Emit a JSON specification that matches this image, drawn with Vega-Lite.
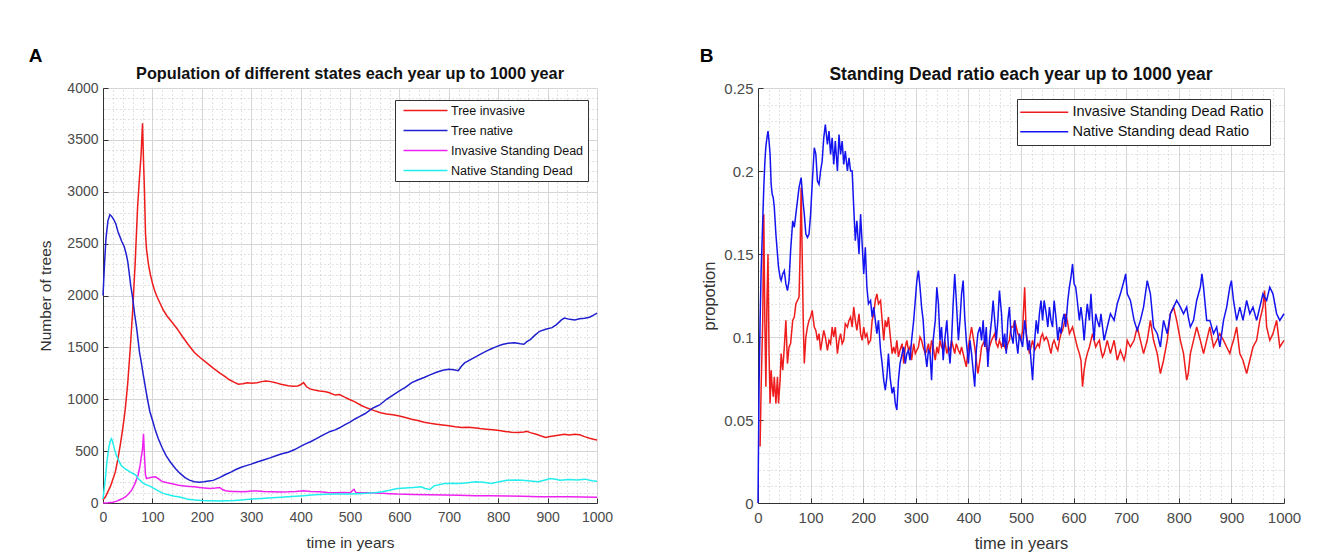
{
"$schema": "https://vega.github.io/schema/vega-lite/v6.json",
"background": "white",
"padding": {"left": 28, "top": 46, "right": 10, "bottom": 0},
"spacing": 86,
"resolve": {"scale": {"color": "independent"}, "legend": {"color": "independent"}},
"config": {
  "font": "Liberation Sans",
  "view": {"stroke": null},
  "axis": {"labelFontSize": 15, "labelColor": "#4a4a4a", "titleFontSize": 16.5, "titleFontWeight": "normal", "titleColor": "#333333", "domainColor": "#333333", "tickColor": "#333333", "gridColor": "#d6d6d6", "labelFlush": false, "labelOverlap": false},
  "legend": {"orient": "none", "strokeColor": "#333333", "fillColor": "white", "padding": 5, "symbolType": "M-4,0H4", "symbolSize": 144, "symbolStrokeWidth": 1.5, "symbolOffset": 16, "labelOffset": 21, "labelFontSize": 14, "labelColor": "#111111", "labelLimit": 400, "rowPadding": 6, "title": null}
},
"datasets": {
  "popA": [
{"t":0,"s":"ti","v":30},{"t":5,"s":"ti","v":60},{"t":10,"s":"ti","v":110},{"t":15,"s":"ti","v":160},{"t":20,"s":"ti","v":230},{"t":25,"s":"ti","v":300},{"t":30,"s":"ti","v":420},{"t":35,"s":"ti","v":560},{"t":40,"s":"ti","v":720},{"t":45,"s":"ti","v":900},{"t":50,"s":"ti","v":1150},{"t":55,"s":"ti","v":1480},{"t":60,"s":"ti","v":1850},{"t":65,"s":"ti","v":2300},{"t":70,"s":"ti","v":2850},{"t":74,"s":"ti","v":3150},{"t":77,"s":"ti","v":3350},{"t":80,"s":"ti","v":3660},{"t":82,"s":"ti","v":3300},{"t":84,"s":"ti","v":3000},{"t":86,"s":"ti","v":2600},{"t":88,"s":"ti","v":2450},{"t":92,"s":"ti","v":2300},{"t":96,"s":"ti","v":2200},{"t":100,"s":"ti","v":2120},{"t":105,"s":"ti","v":2040},{"t":110,"s":"ti","v":1980},{"t":116,"s":"ti","v":1920},{"t":122,"s":"ti","v":1860},{"t":130,"s":"ti","v":1800},{"t":141,"s":"ti","v":1735},{"t":150,"s":"ti","v":1680},{"t":160,"s":"ti","v":1610},{"t":172,"s":"ti","v":1530},{"t":185,"s":"ti","v":1450},{"t":197,"s":"ti","v":1400},{"t":210,"s":"ti","v":1350},{"t":223,"s":"ti","v":1300},{"t":236,"s":"ti","v":1255},{"t":248,"s":"ti","v":1215},{"t":255,"s":"ti","v":1190},{"t":265,"s":"ti","v":1165},{"t":274,"s":"ti","v":1145},{"t":283,"s":"ti","v":1150},{"t":292,"s":"ti","v":1160},{"t":302,"s":"ti","v":1155},{"t":312,"s":"ti","v":1160},{"t":321,"s":"ti","v":1170},{"t":330,"s":"ti","v":1177},{"t":340,"s":"ti","v":1170},{"t":349,"s":"ti","v":1160},{"t":360,"s":"ti","v":1145},{"t":375,"s":"ti","v":1130},{"t":385,"s":"ti","v":1125},{"t":394,"s":"ti","v":1128},{"t":400,"s":"ti","v":1140},{"t":406,"s":"ti","v":1160},{"t":412,"s":"ti","v":1120},{"t":419,"s":"ti","v":1100},{"t":428,"s":"ti","v":1090},{"t":438,"s":"ti","v":1080},{"t":448,"s":"ti","v":1075},{"t":457,"s":"ti","v":1065},{"t":470,"s":"ti","v":1040},{"t":479,"s":"ti","v":1045},{"t":489,"s":"ti","v":1020},{"t":498,"s":"ti","v":1000},{"t":510,"s":"ti","v":975},{"t":523,"s":"ti","v":940},{"t":535,"s":"ti","v":915},{"t":549,"s":"ti","v":890},{"t":562,"s":"ti","v":870},{"t":574,"s":"ti","v":858},{"t":587,"s":"ti","v":850},{"t":600,"s":"ti","v":838},{"t":612,"s":"ti","v":825},{"t":625,"s":"ti","v":808},{"t":637,"s":"ti","v":795},{"t":650,"s":"ti","v":778},{"t":662,"s":"ti","v":768},{"t":675,"s":"ti","v":760},{"t":688,"s":"ti","v":752},{"t":700,"s":"ti","v":745},{"t":713,"s":"ti","v":735},{"t":726,"s":"ti","v":728},{"t":738,"s":"ti","v":730},{"t":751,"s":"ti","v":726},{"t":763,"s":"ti","v":718},{"t":776,"s":"ti","v":712},{"t":789,"s":"ti","v":705},{"t":802,"s":"ti","v":698},{"t":814,"s":"ti","v":690},{"t":827,"s":"ti","v":682},{"t":840,"s":"ti","v":680},{"t":852,"s":"ti","v":685},{"t":858,"s":"ti","v":692},{"t":865,"s":"ti","v":678},{"t":877,"s":"ti","v":662},{"t":887,"s":"ti","v":645},{"t":896,"s":"ti","v":632},{"t":905,"s":"ti","v":640},{"t":915,"s":"ti","v":648},{"t":925,"s":"ti","v":655},{"t":934,"s":"ti","v":662},{"t":944,"s":"ti","v":655},{"t":955,"s":"ti","v":662},{"t":965,"s":"ti","v":658},{"t":975,"s":"ti","v":640},{"t":985,"s":"ti","v":625},{"t":993,"s":"ti","v":615},{"t":1000,"s":"ti","v":608},
{"t":0,"s":"tn","v":2000},{"t":3,"s":"tn","v":2300},{"t":6,"s":"tn","v":2550},{"t":10,"s":"tn","v":2720},{"t":14,"s":"tn","v":2780},{"t":18,"s":"tn","v":2760},{"t":22,"s":"tn","v":2730},{"t":26,"s":"tn","v":2690},{"t":30,"s":"tn","v":2620},{"t":34,"s":"tn","v":2570},{"t":38,"s":"tn","v":2520},{"t":43,"s":"tn","v":2470},{"t":47,"s":"tn","v":2400},{"t":50,"s":"tn","v":2330},{"t":53,"s":"tn","v":2220},{"t":56,"s":"tn","v":2100},{"t":60,"s":"tn","v":1980},{"t":64,"s":"tn","v":1820},{"t":68,"s":"tn","v":1690},{"t":71,"s":"tn","v":1570},{"t":74,"s":"tn","v":1450},{"t":78,"s":"tn","v":1340},{"t":81,"s":"tn","v":1250},{"t":86,"s":"tn","v":1110},{"t":90,"s":"tn","v":1000},{"t":95,"s":"tn","v":880},{"t":100,"s":"tn","v":800},{"t":106,"s":"tn","v":700},{"t":112,"s":"tn","v":620},{"t":120,"s":"tn","v":530},{"t":128,"s":"tn","v":455},{"t":137,"s":"tn","v":390},{"t":147,"s":"tn","v":330},{"t":156,"s":"tn","v":285},{"t":166,"s":"tn","v":245},{"t":175,"s":"tn","v":220},{"t":185,"s":"tn","v":205},{"t":195,"s":"tn","v":200},{"t":204,"s":"tn","v":205},{"t":214,"s":"tn","v":212},{"t":223,"s":"tn","v":218},{"t":236,"s":"tn","v":245},{"t":248,"s":"tn","v":275},{"t":260,"s":"tn","v":300},{"t":270,"s":"tn","v":325},{"t":280,"s":"tn","v":345},{"t":290,"s":"tn","v":360},{"t":300,"s":"tn","v":375},{"t":312,"s":"tn","v":395},{"t":325,"s":"tn","v":415},{"t":338,"s":"tn","v":435},{"t":350,"s":"tn","v":455},{"t":362,"s":"tn","v":475},{"t":375,"s":"tn","v":490},{"t":388,"s":"tn","v":515},{"t":400,"s":"tn","v":545},{"t":410,"s":"tn","v":570},{"t":420,"s":"tn","v":590},{"t":432,"s":"tn","v":620},{"t":445,"s":"tn","v":655},{"t":460,"s":"tn","v":690},{"t":470,"s":"tn","v":705},{"t":479,"s":"tn","v":725},{"t":490,"s":"tn","v":755},{"t":500,"s":"tn","v":780},{"t":510,"s":"tn","v":810},{"t":520,"s":"tn","v":835},{"t":530,"s":"tn","v":860},{"t":539,"s":"tn","v":890},{"t":546,"s":"tn","v":915},{"t":553,"s":"tn","v":930},{"t":560,"s":"tn","v":945},{"t":574,"s":"tn","v":1000},{"t":587,"s":"tn","v":1040},{"t":600,"s":"tn","v":1080},{"t":612,"s":"tn","v":1115},{"t":625,"s":"tn","v":1160},{"t":637,"s":"tn","v":1185},{"t":650,"s":"tn","v":1210},{"t":662,"s":"tn","v":1235},{"t":675,"s":"tn","v":1260},{"t":688,"s":"tn","v":1280},{"t":700,"s":"tn","v":1290},{"t":710,"s":"tn","v":1285},{"t":719,"s":"tn","v":1275},{"t":726,"s":"tn","v":1320},{"t":732,"s":"tn","v":1350},{"t":745,"s":"tn","v":1385},{"t":757,"s":"tn","v":1415},{"t":770,"s":"tn","v":1450},{"t":783,"s":"tn","v":1480},{"t":795,"s":"tn","v":1505},{"t":808,"s":"tn","v":1528},{"t":820,"s":"tn","v":1540},{"t":833,"s":"tn","v":1545},{"t":845,"s":"tn","v":1535},{"t":852,"s":"tn","v":1530},{"t":858,"s":"tn","v":1555},{"t":865,"s":"tn","v":1575},{"t":875,"s":"tn","v":1620},{"t":884,"s":"tn","v":1655},{"t":896,"s":"tn","v":1675},{"t":909,"s":"tn","v":1690},{"t":918,"s":"tn","v":1720},{"t":928,"s":"tn","v":1765},{"t":934,"s":"tn","v":1783},{"t":945,"s":"tn","v":1770},{"t":955,"s":"tn","v":1765},{"t":965,"s":"tn","v":1775},{"t":975,"s":"tn","v":1780},{"t":985,"s":"tn","v":1790},{"t":993,"s":"tn","v":1810},{"t":1000,"s":"tn","v":1830},
{"t":0,"s":"isd","v":0},{"t":10,"s":"isd","v":2},{"t":20,"s":"isd","v":8},{"t":28,"s":"isd","v":18},{"t":33,"s":"isd","v":29},{"t":40,"s":"isd","v":45},{"t":46,"s":"isd","v":61},{"t":52,"s":"isd","v":90},{"t":58,"s":"isd","v":124},{"t":64,"s":"isd","v":180},{"t":71,"s":"isd","v":268},{"t":75,"s":"isd","v":360},{"t":77,"s":"isd","v":427},{"t":80,"s":"isd","v":520},{"t":82,"s":"isd","v":667},{"t":84,"s":"isd","v":450},{"t":86,"s":"isd","v":270},{"t":88,"s":"isd","v":236},{"t":92,"s":"isd","v":240},{"t":96,"s":"isd","v":246},{"t":101,"s":"isd","v":250},{"t":106,"s":"isd","v":252},{"t":112,"s":"isd","v":235},{"t":117,"s":"isd","v":215},{"t":122,"s":"isd","v":204},{"t":130,"s":"isd","v":195},{"t":140,"s":"isd","v":185},{"t":153,"s":"isd","v":172},{"t":165,"s":"isd","v":165},{"t":175,"s":"isd","v":160},{"t":185,"s":"isd","v":156},{"t":195,"s":"isd","v":150},{"t":205,"s":"isd","v":145},{"t":217,"s":"isd","v":140},{"t":228,"s":"isd","v":145},{"t":236,"s":"isd","v":150},{"t":242,"s":"isd","v":130},{"t":248,"s":"isd","v":118},{"t":260,"s":"isd","v":112},{"t":270,"s":"isd","v":110},{"t":280,"s":"isd","v":108},{"t":292,"s":"isd","v":112},{"t":300,"s":"isd","v":115},{"t":312,"s":"isd","v":115},{"t":325,"s":"isd","v":110},{"t":343,"s":"isd","v":108},{"t":360,"s":"isd","v":106},{"t":375,"s":"isd","v":108},{"t":390,"s":"isd","v":112},{"t":406,"s":"isd","v":118},{"t":420,"s":"isd","v":112},{"t":438,"s":"isd","v":108},{"t":455,"s":"isd","v":102},{"t":470,"s":"isd","v":99},{"t":488,"s":"isd","v":100},{"t":501,"s":"isd","v":99},{"t":506,"s":"isd","v":125},{"t":508,"s":"isd","v":131},{"t":512,"s":"isd","v":100},{"t":520,"s":"isd","v":98},{"t":533,"s":"isd","v":99},{"t":550,"s":"isd","v":96},{"t":565,"s":"isd","v":93},{"t":580,"s":"isd","v":90},{"t":596,"s":"isd","v":86},{"t":612,"s":"isd","v":85},{"t":628,"s":"isd","v":83},{"t":660,"s":"isd","v":80},{"t":691,"s":"isd","v":77},{"t":720,"s":"isd","v":74},{"t":754,"s":"isd","v":70},{"t":785,"s":"isd","v":69},{"t":818,"s":"isd","v":67},{"t":850,"s":"isd","v":65},{"t":881,"s":"isd","v":61},{"t":912,"s":"isd","v":60},{"t":944,"s":"isd","v":61},{"t":970,"s":"isd","v":58},{"t":1000,"s":"isd","v":55},
{"t":0,"s":"nsd","v":40},{"t":4,"s":"nsd","v":200},{"t":8,"s":"nsd","v":400},{"t":12,"s":"nsd","v":540},{"t":15,"s":"nsd","v":600},{"t":17,"s":"nsd","v":620},{"t":19,"s":"nsd","v":600},{"t":21,"s":"nsd","v":560},{"t":24,"s":"nsd","v":507},{"t":27,"s":"nsd","v":460},{"t":30,"s":"nsd","v":427},{"t":33,"s":"nsd","v":396},{"t":37,"s":"nsd","v":360},{"t":43,"s":"nsd","v":335},{"t":48,"s":"nsd","v":320},{"t":53,"s":"nsd","v":305},{"t":58,"s":"nsd","v":290},{"t":63,"s":"nsd","v":280},{"t":67,"s":"nsd","v":265},{"t":71,"s":"nsd","v":235},{"t":76,"s":"nsd","v":215},{"t":80,"s":"nsd","v":195},{"t":85,"s":"nsd","v":180},{"t":90,"s":"nsd","v":172},{"t":96,"s":"nsd","v":160},{"t":103,"s":"nsd","v":140},{"t":109,"s":"nsd","v":124},{"t":115,"s":"nsd","v":110},{"t":122,"s":"nsd","v":93},{"t":134,"s":"nsd","v":77},{"t":145,"s":"nsd","v":65},{"t":153,"s":"nsd","v":60},{"t":165,"s":"nsd","v":45},{"t":172,"s":"nsd","v":35},{"t":185,"s":"nsd","v":30},{"t":200,"s":"nsd","v":25},{"t":217,"s":"nsd","v":22},{"t":235,"s":"nsd","v":20},{"t":248,"s":"nsd","v":22},{"t":265,"s":"nsd","v":25},{"t":280,"s":"nsd","v":30},{"t":296,"s":"nsd","v":35},{"t":312,"s":"nsd","v":41},{"t":328,"s":"nsd","v":46},{"t":343,"s":"nsd","v":51},{"t":360,"s":"nsd","v":56},{"t":375,"s":"nsd","v":61},{"t":390,"s":"nsd","v":65},{"t":406,"s":"nsd","v":70},{"t":422,"s":"nsd","v":76},{"t":438,"s":"nsd","v":83},{"t":455,"s":"nsd","v":85},{"t":470,"s":"nsd","v":86},{"t":486,"s":"nsd","v":87},{"t":501,"s":"nsd","v":86},{"t":517,"s":"nsd","v":90},{"t":533,"s":"nsd","v":93},{"t":549,"s":"nsd","v":98},{"t":565,"s":"nsd","v":108},{"t":580,"s":"nsd","v":122},{"t":596,"s":"nsd","v":140},{"t":612,"s":"nsd","v":145},{"t":628,"s":"nsd","v":150},{"t":644,"s":"nsd","v":157},{"t":652,"s":"nsd","v":140},{"t":662,"s":"nsd","v":130},{"t":670,"s":"nsd","v":165},{"t":691,"s":"nsd","v":188},{"t":707,"s":"nsd","v":190},{"t":723,"s":"nsd","v":188},{"t":738,"s":"nsd","v":195},{"t":754,"s":"nsd","v":204},{"t":770,"s":"nsd","v":200},{"t":786,"s":"nsd","v":188},{"t":802,"s":"nsd","v":205},{"t":818,"s":"nsd","v":220},{"t":834,"s":"nsd","v":222},{"t":849,"s":"nsd","v":220},{"t":865,"s":"nsd","v":212},{"t":881,"s":"nsd","v":204},{"t":893,"s":"nsd","v":220},{"t":906,"s":"nsd","v":236},{"t":916,"s":"nsd","v":228},{"t":925,"s":"nsd","v":220},{"t":944,"s":"nsd","v":226},{"t":960,"s":"nsd","v":222},{"t":975,"s":"nsd","v":230},{"t":990,"s":"nsd","v":215},{"t":1000,"s":"nsd","v":210}
  ],
  "ratioB": [
{"t":0,"i":null,"n":0},{"t":2,"i":null,"n":0.07},{"t":4,"i":0.034,"n":0.11},{"t":6,"i":0.07,"n":0.14},{"t":9,"i":0.11,"n":0.17},{"t":11,"i":0.174,"n":0.19},{"t":13,"i":0.11,"n":0.205},{"t":15,"i":0.07,"n":0.215},{"t":17,"i":0.12,"n":0.22},{"t":19,"i":0.15,"n":0.224},{"t":21,"i":0.09,"n":0.218},{"t":23,"i":0.06,"n":0.21},{"t":25,"i":0.08,"n":0.192},{"t":27,"i":0.07,"n":0.186},{"t":29,"i":0.064,"n":0.184},{"t":31,"i":0.076,"n":0.178},{"t":34,"i":0.06,"n":0.162},{"t":37,"i":0.076,"n":0.15},{"t":39,"i":0.06,"n":0.142},{"t":42,"i":0.074,"n":0.136},{"t":44,"i":0.09,"n":0.134},{"t":47,"i":0.08,"n":0.138},{"t":50,"i":0.094,"n":0.14},{"t":53,"i":0.11,"n":0.132},{"t":56,"i":0.084,"n":0.128},{"t":59,"i":0.094,"n":0.134},{"t":62,"i":0.096,"n":0.152},{"t":66,"i":0.11,"n":0.17},{"t":69,"i":0.112,"n":0.166},{"t":72,"i":0.12,"n":0.174},{"t":75,"i":0.122,"n":0.182},{"t":78,"i":0.124,"n":0.19},{"t":80,"i":0.15,"n":0.193},{"t":82,"i":0.19,"n":0.196},{"t":84,"i":0.15,"n":0.188},{"t":86,"i":0.11,"n":0.18},{"t":88,"i":0.084,"n":0.174},{"t":91,"i":0.1,"n":0.162},{"t":94,"i":0.106,"n":0.16},{"t":97,"i":0.11,"n":0.162},{"t":100,"i":0.112,"n":0.174},{"t":103,"i":0.116,"n":0.192},{"t":107,"i":0.106,"n":0.214},{"t":110,"i":0.104,"n":0.21},{"t":113,"i":0.098,"n":0.194},{"t":116,"i":0.102,"n":0.192},{"t":119,"i":0.092,"n":0.2},{"t":122,"i":0.098,"n":0.206},{"t":125,"i":0.104,"n":0.22},{"t":128,"i":0.1,"n":0.228},{"t":132,"i":0.092,"n":0.216},{"t":135,"i":0.098,"n":0.224},{"t":138,"i":0.096,"n":0.21},{"t":141,"i":0.106,"n":0.22},{"t":144,"i":0.1,"n":0.204},{"t":147,"i":0.106,"n":0.218},{"t":151,"i":0.09,"n":0.2},{"t":154,"i":0.098,"n":0.222},{"t":157,"i":0.102,"n":0.21},{"t":160,"i":0.096,"n":0.218},{"t":163,"i":0.098,"n":0.204},{"t":166,"i":0.108,"n":0.212},{"t":170,"i":0.106,"n":0.2},{"t":173,"i":0.11,"n":0.208},{"t":176,"i":0.112,"n":0.2},{"t":179,"i":0.106,"n":0.2},{"t":182,"i":0.118,"n":0.178},{"t":185,"i":0.11,"n":0.158},{"t":188,"i":0.104,"n":0.17},{"t":192,"i":0.114,"n":0.15},{"t":195,"i":0.102,"n":0.174},{"t":198,"i":0.098,"n":0.156},{"t":201,"i":0.106,"n":0.138},{"t":204,"i":0.1,"n":0.154},{"t":207,"i":0.102,"n":0.13},{"t":210,"i":0.096,"n":0.12},{"t":214,"i":0.098,"n":0.122},{"t":217,"i":0.11,"n":0.112},{"t":220,"i":0.114,"n":0.118},{"t":223,"i":0.122,"n":0.11},{"t":226,"i":0.126,"n":0.102},{"t":229,"i":0.12,"n":0.11},{"t":233,"i":0.122,"n":0.092},{"t":236,"i":0.11,"n":0.084},{"t":239,"i":0.098,"n":0.074},{"t":242,"i":0.11,"n":0.068},{"t":245,"i":0.106,"n":0.076},{"t":248,"i":0.112,"n":0.09},{"t":251,"i":0.102,"n":0.076},{"t":255,"i":0.09,"n":0.066},{"t":258,"i":0.094,"n":0.07},{"t":261,"i":0.09,"n":0.06},{"t":264,"i":0.098,"n":0.056},{"t":267,"i":0.088,"n":0.074},{"t":270,"i":0.092,"n":0.084},{"t":274,"i":0.096,"n":0.09},{"t":277,"i":0.084,"n":0.094},{"t":280,"i":0.094,"n":0.084},{"t":283,"i":0.098,"n":0.09},{"t":286,"i":0.092,"n":0.092},{"t":289,"i":0.094,"n":0.086},{"t":292,"i":0.086,"n":0.098},{"t":296,"i":0.096,"n":0.11},{"t":299,"i":0.09,"n":0.122},{"t":302,"i":0.092,"n":0.134},{"t":305,"i":0.094,"n":0.14},{"t":308,"i":0.1,"n":0.13},{"t":311,"i":0.098,"n":0.118},{"t":314,"i":0.094,"n":0.11},{"t":318,"i":0.09,"n":0.09},{"t":321,"i":0.092,"n":0.082},{"t":324,"i":0.096,"n":0.092},{"t":327,"i":0.09,"n":0.09},{"t":330,"i":0.098,"n":0.074},{"t":333,"i":0.094,"n":0.098},{"t":337,"i":0.086,"n":0.11},{"t":340,"i":0.094,"n":0.13},{"t":343,"i":0.09,"n":0.12},{"t":346,"i":0.098,"n":0.098},{"t":349,"i":0.094,"n":0.106},{"t":352,"i":0.092,"n":0.086},{"t":355,"i":0.098,"n":0.098},{"t":359,"i":0.09,"n":0.11},{"t":362,"i":0.094,"n":0.094},{"t":365,"i":0.092,"n":0.084},{"t":368,"i":0.098,"n":0.098},{"t":371,"i":0.094,"n":0.12},{"t":374,"i":0.09,"n":0.138},{"t":377,"i":0.096,"n":0.122},{"t":381,"i":0.092,"n":0.098},{"t":384,"i":0.09,"n":0.11},{"t":387,"i":0.094,"n":0.126},{"t":390,"i":0.09,"n":0.134},{"t":393,"i":0.086,"n":0.112},{"t":396,"i":0.082,"n":0.098},{"t":400,"i":0.094,"n":0.084},{"t":403,"i":0.1,"n":0.098},{"t":406,"i":0.106,"n":0.09},{"t":409,"i":0.1,"n":0.08},{"t":412,"i":0.094,"n":0.07},{"t":415,"i":0.086,"n":0.092},{"t":418,"i":0.078,"n":0.102},{"t":422,"i":0.086,"n":0.106},{"t":425,"i":0.094,"n":0.098},{"t":428,"i":0.096,"n":0.11},{"t":431,"i":0.098,"n":0.094},{"t":434,"i":0.094,"n":0.106},{"t":437,"i":0.09,"n":0.082},{"t":440,"i":0.094,"n":0.098},{"t":444,"i":0.098,"n":0.11},{"t":447,"i":0.1,"n":0.122},{"t":450,"i":0.102,"n":0.11},{"t":453,"i":0.096,"n":0.098},{"t":456,"i":0.094,"n":0.11},{"t":459,"i":0.098,"n":0.128},{"t":463,"i":0.094,"n":0.114},{"t":466,"i":0.098,"n":0.094},{"t":469,"i":0.094,"n":0.102},{"t":472,"i":0.092,"n":0.09},{"t":475,"i":0.096,"n":0.11},{"t":478,"i":0.098,"n":0.118},{"t":481,"i":0.106,"n":0.102},{"t":485,"i":0.106,"n":0.096},{"t":488,"i":0.11,"n":0.11},{"t":491,"i":0.106,"n":0.098},{"t":494,"i":0.102,"n":0.09},{"t":497,"i":0.1,"n":0.102},{"t":500,"i":0.098,"n":0.098},{"t":503,"i":0.104,"n":0.094},{"t":507,"i":0.13,"n":0.11},{"t":510,"i":0.102,"n":0.102},{"t":513,"i":0.096,"n":0.092},{"t":516,"i":0.09,"n":0.098},{"t":519,"i":0.094,"n":0.086},{"t":522,"i":0.098,"n":0.074},{"t":526,"i":0.092,"n":0.098},{"t":529,"i":0.094,"n":0.11},{"t":532,"i":0.096,"n":0.102},{"t":535,"i":0.094,"n":0.114},{"t":538,"i":0.1,"n":0.122},{"t":541,"i":0.102,"n":0.11},{"t":544,"i":0.098,"n":0.122},{"t":548,"i":0.1,"n":0.114},{"t":551,"i":0.098,"n":0.106},{"t":554,"i":0.094,"n":0.118},{"t":557,"i":0.09,"n":0.11},{"t":560,"i":0.096,"n":0.106},{"t":563,"i":0.098,"n":0.122},{"t":567,"i":0.094,"n":0.11},{"t":570,"i":0.092,"n":0.098},{"t":573,"i":0.098,"n":0.106},{"t":576,"i":0.102,"n":0.102},{"t":579,"i":0.104,"n":0.11},{"t":582,"i":0.108,"n":0.114},{"t":585,"i":0.114,"n":0.106},{"t":589,"i":0.108,"n":0.122},{"t":592,"i":0.102,"n":0.13},{"t":595,"i":0.104,"n":0.136},{"t":598,"i":0.106,"n":0.144},{"t":601,"i":0.102,"n":0.132},{"t":604,"i":0.098,"n":0.13},{"t":607,"i":0.094,"n":0.122},{"t":611,"i":0.09,"n":0.11},{"t":614,"i":0.086,"n":0.118},{"t":617,"i":0.07,"n":0.11},{"t":620,"i":0.08,"n":0.098},{"t":623,"i":0.086,"n":0.11},{"t":626,"i":0.09,"n":0.12},{"t":630,"i":0.094,"n":0.11},{"t":633,"i":0.098,"n":0.126},{"t":636,"i":0.102,"n":0.11},{"t":639,"i":0.098,"n":0.098},{"t":642,"i":0.094,"n":0.114},{"t":645,"i":0.096,"n":0.11},{"t":649,"i":0.098,"n":0.106},{"t":652,"i":0.092,"n":0.114},{"t":655,"i":0.088,"n":0.106},{"t":658,"i":0.09,"n":0.098},{"t":664,"i":0.098,"n":0.106},{"t":670,"i":0.09,"n":0.114},{"t":677,"i":0.098,"n":0.11},{"t":683,"i":0.086,"n":0.12},{"t":689,"i":0.092,"n":0.126},{"t":696,"i":0.086,"n":0.134},{"t":699,"i":0.09,"n":0.138},{"t":702,"i":0.098,"n":0.126},{"t":708,"i":0.094,"n":0.122},{"t":715,"i":0.098,"n":0.11},{"t":721,"i":0.106,"n":0.104},{"t":727,"i":0.098,"n":0.11},{"t":733,"i":0.09,"n":0.118},{"t":740,"i":0.098,"n":0.134},{"t":746,"i":0.11,"n":0.126},{"t":752,"i":0.098,"n":0.106},{"t":759,"i":0.09,"n":0.102},{"t":765,"i":0.078,"n":0.094},{"t":771,"i":0.086,"n":0.11},{"t":778,"i":0.098,"n":0.102},{"t":784,"i":0.114,"n":0.114},{"t":790,"i":0.118,"n":0.118},{"t":796,"i":0.11,"n":0.122},{"t":803,"i":0.098,"n":0.118},{"t":809,"i":0.09,"n":0.114},{"t":815,"i":0.074,"n":0.118},{"t":818,"i":0.078,"n":0.112},{"t":822,"i":0.09,"n":0.106},{"t":828,"i":0.098,"n":0.11},{"t":834,"i":0.106,"n":0.122},{"t":841,"i":0.098,"n":0.13},{"t":844,"i":0.094,"n":0.138},{"t":847,"i":0.09,"n":0.13},{"t":853,"i":0.098,"n":0.11},{"t":859,"i":0.106,"n":0.11},{"t":866,"i":0.094,"n":0.102},{"t":872,"i":0.098,"n":0.106},{"t":878,"i":0.102,"n":0.094},{"t":885,"i":0.098,"n":0.11},{"t":891,"i":0.094,"n":0.118},{"t":897,"i":0.09,"n":0.13},{"t":900,"i":0.094,"n":0.134},{"t":904,"i":0.098,"n":0.122},{"t":910,"i":0.106,"n":0.11},{"t":916,"i":0.09,"n":0.118},{"t":922,"i":0.086,"n":0.11},{"t":929,"i":0.078,"n":0.122},{"t":935,"i":0.086,"n":0.114},{"t":941,"i":0.094,"n":0.118},{"t":948,"i":0.098,"n":0.11},{"t":954,"i":0.11,"n":0.118},{"t":960,"i":0.118,"n":0.126},{"t":963,"i":0.128,"n":0.124},{"t":967,"i":0.106,"n":0.122},{"t":973,"i":0.098,"n":0.13},{"t":979,"i":0.102,"n":0.126},{"t":986,"i":0.11,"n":0.114},{"t":992,"i":0.094,"n":0.11},{"t":1000,"i":0.098,"n":0.114}
  ]
},
"hconcat": [
  {
    "title": {"text": "A", "anchor": "start", "fontSize": 19, "fontWeight": "bold", "color": "#000000", "offset": 0, "dx": -10},
    "vconcat": [
      {
        "title": {"text": "Population of different states each year up to 1000 year", "fontSize": 16.3, "fontWeight": "bold", "color": "#111111", "anchor": "middle", "offset": -1},
        "width": 494, "height": 415,
        "data": {"name": "popA"},
        "layer": [
          {
            "mark": {"type": "line", "strokeOpacity": 0},
            "encoding": {
              "x": {"field": "t", "type": "quantitative", "scale": {"domain": [0, 1000], "nice": false}, "axis": {"orient": "top", "values": [20,40,60,80,120,140,160,180,220,240,260,280,320,340,360,380,420,440,460,480,520,540,560,580,620,640,660,680,720,740,760,780,820,840,860,880,920,940,960,980], "grid": true, "gridDash": [1, 3], "gridColor": "#c4c4c4", "labels": false, "ticks": false, "domain": false, "title": null}},
              "y": {"field": "v", "type": "quantitative", "scale": {"domain": [0, 4000], "nice": false}, "axis": {"orient": "right", "values": [100,200,300,400,600,700,800,900,1100,1200,1300,1400,1600,1700,1800,1900,2100,2200,2300,2400,2600,2700,2800,2900,3100,3200,3300,3400,3600,3700,3800,3900], "grid": true, "gridDash": [1, 3], "gridColor": "#c4c4c4", "labels": false, "ticks": false, "domain": false, "title": null}},
              "detail": {"field": "s"}
            }
          },
          {
            "mark": {"type": "line", "strokeWidth": 1.5},
            "encoding": {
              "x": {"field": "t", "type": "quantitative", "scale": {"domain": [0, 1000], "nice": false}, "axis": {"orient": "bottom", "values": [0,100,200,300,400,500,600,700,800,900,1000], "format": "d", "title": "time in years", "grid": true, "tickSize": -5, "labelPadding": 12, "titlePadding": 11, "labelFontSize": 14, "titleFontSize": 15.5}},
              "y": {"field": "v", "type": "quantitative", "scale": {"domain": [0, 4000], "nice": false}, "axis": {"orient": "left", "values": [0,500,1000,1500,2000,2500,3000,3500,4000], "format": "d", "title": "Number of trees", "grid": true, "tickSize": -5, "labelPadding": 10, "titlePadding": 13, "labelFontSize": 14, "titleFontSize": 15.5}},
              "color": {"field": "s", "type": "nominal", "sort": ["ti", "tn", "isd", "nsd"], "scale": {"domain": ["ti", "tn", "isd", "nsd"], "range": ["#ee1c1c", "#2020d0", "#ee22ee", "#22eeee"]}, "legend": {"legendX": 292, "legendY": 12, "labelFontSize": 12.5, "rowPadding": 7, "padding": 4, "symbolSize": 121, "symbolOffset": 20, "labelOffset": 19, "labelExpr": "datum.value == 'ti' ? 'Tree invasive' : datum.value == 'tn' ? 'Tree native' : datum.value == 'isd' ? 'Invasive Standing Dead' : 'Native Standing Dead'"}}
            }
          }
        ],
        "resolve": {"axis": {"x": "independent", "y": "independent"}}
      }
    ]
  },
  {
    "title": {"text": "B", "anchor": "start", "fontSize": 19, "fontWeight": "bold", "color": "#000000", "offset": 0, "dx": -2},
    "vconcat": [
      {
        "title": {"text": "Standing Dead ratio each year up to 1000 year", "fontSize": 17.5, "fontWeight": "bold", "color": "#111111", "anchor": "middle", "offset": -2},
        "width": 526, "height": 415,
        "data": {"name": "ratioB"},
        "transform": [{"fold": ["i", "n"], "as": ["s", "v"]}],
        "layer": [
          {
            "mark": {"type": "line", "strokeOpacity": 0},
            "encoding": {
              "x": {"field": "t", "type": "quantitative", "scale": {"domain": [0, 1000], "nice": false}, "axis": {"orient": "top", "values": [20,40,60,80,120,140,160,180,220,240,260,280,320,340,360,380,420,440,460,480,520,540,560,580,620,640,660,680,720,740,760,780,820,840,860,880,920,940,960,980], "grid": true, "gridDash": [1, 3], "gridColor": "#c4c4c4", "labels": false, "ticks": false, "domain": false, "title": null}},
              "y": {"field": "v", "type": "quantitative", "scale": {"domain": [0, 0.25], "nice": false}, "axis": {"orient": "right", "values": [0.01,0.02,0.03,0.04,0.06,0.07,0.08,0.09,0.11,0.12,0.13,0.14,0.16,0.17,0.18,0.19,0.21,0.22,0.23,0.24], "grid": true, "gridDash": [1, 3], "gridColor": "#c4c4c4", "labels": false, "ticks": false, "domain": false, "title": null}},
              "detail": {"field": "s"}
            }
          },
          {
            "mark": {"type": "line", "strokeWidth": 1.5},
            "encoding": {
              "x": {"field": "t", "type": "quantitative", "scale": {"domain": [0, 1000], "nice": false}, "axis": {"orient": "bottom", "values": [0,100,200,300,400,500,600,700,800,900,1000], "format": "d", "title": "time in years", "grid": true, "tickSize": -5, "labelPadding": 12, "titlePadding": 10}},
              "y": {"field": "v", "type": "quantitative", "scale": {"domain": [0, 0.25], "nice": false}, "axis": {"orient": "left", "values": [0,0.05,0.1,0.15,0.2,0.25], "labelExpr": "format(datum.value, '~g')", "title": "propotion", "grid": true, "tickSize": -5, "labelPadding": 10, "titlePadding": 6}},
              "color": {"field": "s", "type": "nominal", "scale": {"domain": ["i", "n"], "range": ["#ee1c1c", "#1414f0"]}, "legend": {"legendX": 259, "legendY": 11, "labelFontSize": 14.5, "rowPadding": 4.5, "padding": 6, "symbolOffset": 14, "labelExpr": "datum.value == 'i' ? 'Invasive Standing Dead Ratio' : 'Native Standing dead Ratio'"}}
            }
          }
        ],
        "resolve": {"axis": {"x": "independent", "y": "independent"}}
      }
    ]
  }
]
}
